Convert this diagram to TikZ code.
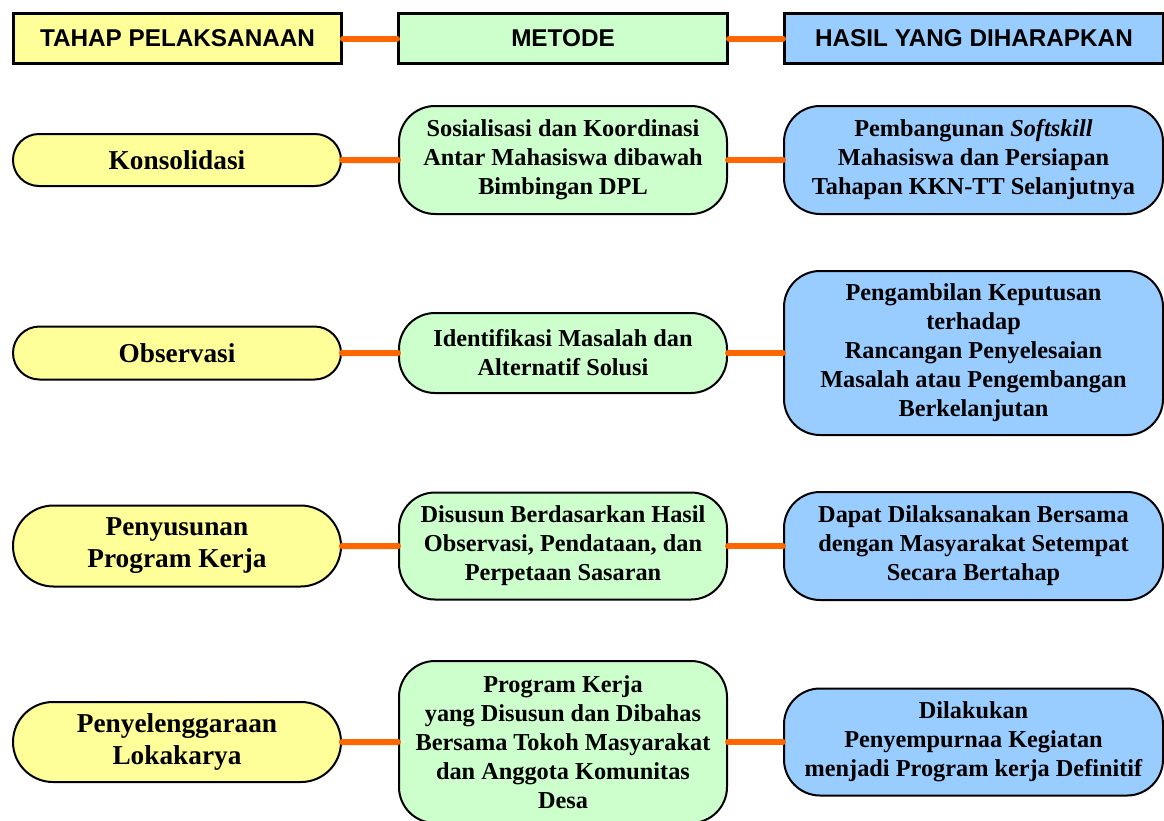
\documentclass[tikz,border=0pt]{standalone}
\usepackage{fontspec}
\setmainfont{Liberation Serif}
\newfontfamily\headfont{Liberation Sans}
\usepackage{tikz}
\usetikzlibrary{
  positioning,
  shapes.misc
}
\definecolor{stageyellow}{RGB}{255,255,153}
\definecolor{methodgreen}{RGB}{204,255,204}
\definecolor{resultblue}{RGB}{153,204,255}
\definecolor{linkorange}{RGB}{255,102,0}
\tikzset{
  headbox/.style={draw=black,line width=3pt,align=center,inner sep=0pt,
    minimum height=50pt,font=\headfont\bfseries\fontsize{24.3}{29}\selectfont},
  stage/.style={rounded rectangle,draw=black,line width=2pt,fill=stageyellow,
    align=center,inner sep=0pt,minimum width=328pt,
    font=\bfseries\fontsize{27.3}{32}\selectfont},
  method/.style={draw=black,line width=2pt,fill=methodgreen,rounded corners=36pt,
    align=center,inner sep=0pt,minimum width=328pt,
    font=\bfseries\fontsize{24.3}{29}\selectfont},
  result/.style={draw=black,line width=2pt,fill=resultblue,rounded corners=36pt,
    align=center,inner sep=0pt,minimum width=379pt,
    font=\bfseries\fontsize{24.3}{29}\selectfont},
  link/.style={draw=linkorange,line width=6pt,line cap=round}
}

\begin{document}
\begin{tikzpicture}[x=1pt,y=-1pt,node distance=56pt]
  \useasboundingbox (0,0) rectangle (1164,820);
  % headers
  \node[headbox,fill=stageyellow,minimum width=328pt] (htahap) at (177.5,38.5) {TAHAP PELAKSANAAN};
  \node[headbox,fill=methodgreen,minimum width=329pt,right=54pt of htahap] (hmetode) {METODE};
  \node[headbox,fill=resultblue,minimum width=379pt,right=54pt of hmetode] (hhasil) {HASIL YANG DIHARAPKAN};
  % rows
  \node[stage,minimum height=52pt] (konsol) at (177,160) {Konsolidasi};
  \node[method,minimum height=108pt,right=of konsol] (sosial) {Sosialisasi dan Koordinasi\\Antar Mahasiswa dibawah\\Bimbingan DPL};
  \node[result,minimum height=108pt,right=55pt of sosial] (bangun) {Pembangunan \textit{Softskill}\\Mahasiswa dan Persiapan\\Tahapan KKN-TT Selanjutnya};

  \node[stage,minimum height=53pt] (observ) at (177,353) {Observasi};
  \node[method,minimum height=80pt,right=of observ] (identif) {Identifikasi Masalah dan\\Alternatif Solusi};
  \node[result,minimum height=164pt,right=55pt of identif] (ambil) {Pengambilan Keputusan\\terhadap\\Rancangan Penyelesaian\\Masalah atau Pengembangan\\Berkelanjutan};

  \node[stage,minimum height=81pt] (susun) at (177,546) {Penyusunan\\Program Kerja};
  \node[method,minimum height=107pt,right=of susun] (dasar) {Disusun Berdasarkan Hasil\\Observasi, Pendataan, dan\\Perpetaan Sasaran};
  \node[result,minimum height=108pt,right=55pt of dasar] (laksana) {Dapat Dilaksanakan Bersama\\dengan Masyarakat Setempat\\Secara Bertahap};

  \node[stage,minimum height=80pt] (lokakarya) at (177,742) {Penyelenggaraan\\Lokakarya};
  \node[method,minimum height=162pt,right=of lokakarya] (bahas) {Program Kerja\\yang Disusun dan Dibahas\\Bersama Tokoh Masyarakat\\dan Anggota Komunitas\\Desa};
  \node[result,minimum height=107pt,right=55pt of bahas] (sempurna) {Dilakukan\\Penyempurnaa Kegiatan\\menjadi Program kerja Definitif};
  % connectors
  \foreach \a/\b/\c in {htahap/hmetode/hhasil,konsol/sosial/bangun,
      observ/identif/ambil,susun/dasar/laksana,lokakarya/bahas/sempurna}{
    \draw[link] (\a) -- (\b);
    \draw[link] (\b) -- (\c);
  }
\end{tikzpicture}
\end{document}
